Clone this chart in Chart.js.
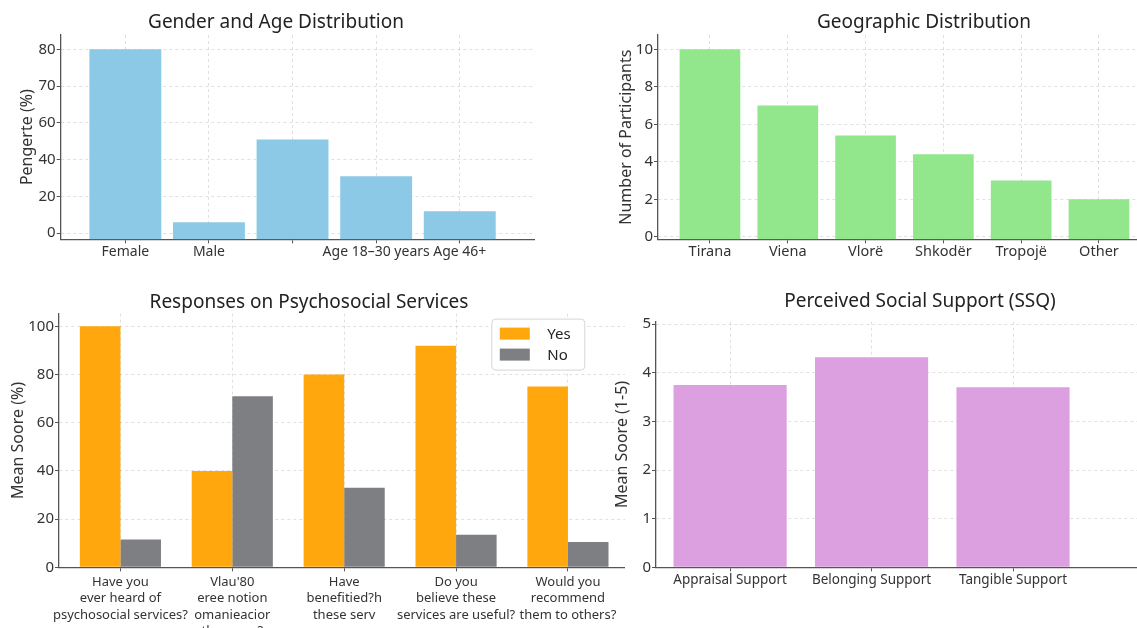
<!DOCTYPE html>
<html>
<head>
<meta charset="utf-8">
<title>Survey charts</title>
<script src="https://cdn.jsdelivr.net/npm/chart.js@4.4.1/dist/chart.umd.min.js"></script>
<style>
  html, body { margin: 0; padding: 0; background: #fff; overflow: hidden; }
  #page { position: relative; width: 1137px; height: 628px; overflow: hidden; background: #fff; }
  canvas { position: absolute; }
</style>
</head>
<body>
<div id="page">
  <canvas id="genderChart" width="535" height="275" style="left:0px;top:0px"></canvas>
  <canvas id="geoChart" width="616" height="275" style="left:616px;top:0px"></canvas>
  <canvas id="servicesChart" width="632" height="348" style="left:-7px;top:280px"></canvas>
  <canvas id="supportChart" width="616" height="348" style="left:612px;top:280px"></canvas>
</div>
<script>
// gender / age
var genderLabels = ['Female', 'Male', '', 'Age 18–30 years', 'Age 46+'];
var genderValues = [80, 6, 51, 31, 12];
var genderTicks = [0, 20, 40, 60, 70, 80];

// geography
var cityLabels = ['Tirana', 'Viena', 'Vlorë', 'Shkodër', 'Tropojë', 'Other'];
var cityValues = [10, 7, 5.4, 4.4, 3, 2];

// psychosocial services
var questionLabels = [
  ['Have you', 'ever heard of', 'psychosocial services?'],
  ['Vlau\'80', 'eree notion', 'omanieacior', 'these ser?'],
  ['Have', 'benefitied?h', 'these serv'],
  ['Do you', 'believe these', 'services are useful?'],
  ['Would you', 'recommend', 'them to others?']
];
var yesValues = [100, 40, 80, 92, 75];
var noValues = [11.5, 71, 33, 13.5, 10.5];

// SSQ
var supportLabels = ['Appraisal Support', 'Belonging Support', 'Tangible Support'];
var supportValues = [3.75, 4.32, 3.7];

Chart.defaults.font.family = "'Noto Sans', sans-serif";
Chart.defaults.color = '#333';
Chart.defaults.animation = false;

var gridColor = 'rgba(0,0,0,0.12)';
var axisColor = '#555';

// y axis whose ticks are evenly spaced even when their values are not (0,20,40,60,70,80)
class TickIndexScale extends Chart.LinearScale {
  toUnit(v) {
    var t = genderTicks, i = 1;
    while (i < t.length - 1 && v > t[i]) i++;
    return i - 1 + (v - t[i - 1]) / (t[i] - t[i - 1]);
  }
  fromUnit(u) {
    var t = genderTicks;
    var i = Math.min(Math.max(Math.floor(u), 0), t.length - 2);
    return t[i] + (u - i) * (t[i + 1] - t[i]);
  }
  buildTicks() {
    return genderTicks.map(function (v) { return { value: v }; });
  }
  configure() {
    super.configure();
    this._startValue = this.toUnit(this.min);
    this._valueRange = this.toUnit(this.max) - this._startValue;
  }
  getPixelForValue(value) {
    if (value === null || value === undefined) return NaN;
    return this.getPixelForDecimal((this.toUnit(value) - this._startValue) / this._valueRange);
  }
  getValueForPixel(pixel) {
    return this.fromUnit(this._startValue + this.getDecimalForPixel(pixel) * this._valueRange);
  }
}
TickIndexScale.id = 'tickIndex';
TickIndexScale.defaults = Chart.LinearScale.defaults;
Chart.register(TickIndexScale);

// legend drawn inside the plot, top right, with a frame
var frameLegend = {
  id: 'frameLegend',
  afterDraw: function (chart) {
    var ctx = chart.ctx, area = chart.chartArea;
    var sets = chart.data.datasets;
    var w = 93, h = 51;
    var x = area.right - 40.7 - w, y = area.top + 5;
    ctx.save();
    ctx.fillStyle = 'rgba(255,255,255,0.92)';
    ctx.strokeStyle = '#d6d6d6';
    ctx.lineWidth = 1;
    ctx.beginPath();
    if (ctx.roundRect) ctx.roundRect(x + 0.5, y + 0.5, w, h, 4); else ctx.rect(x + 0.5, y + 0.5, w, h);
    ctx.fill();
    ctx.stroke();
    ctx.font = "15px 'Noto Sans', sans-serif";
    ctx.textBaseline = 'middle';
    for (var i = 0; i < sets.length; i++) {
      var cy = y + 15 + i * 21;
      ctx.fillStyle = sets[i].backgroundColor;
      ctx.fillRect(x + 8.5, cy - 6, 30, 12);
      ctx.fillStyle = '#222';
      ctx.fillText(sets[i].label, x + 56, cy + 1);
    }
    ctx.restore();
  }
};

function chartTitle(text, top, bottom) {
  return {
    display: true, text: text, color: '#222',
    font: { size: 19, weight: 'normal' },
    padding: { top: top, bottom: bottom }
  };
}

function xAxis(labels, min, max, fontSize, pad, height) {
  return {
    type: 'linear', min: min, max: max, offset: false,
    afterFit: function (s) { s.height = height; },
    grid: { offset: false, color: gridColor, tickColor: axisColor, tickLength: 4 },
    border: { color: axisColor, width: 1.3, dash: [3, 3] },
    ticks: {
      stepSize: 1, includeBounds: false, autoSkip: false,
      minRotation: 0, maxRotation: 0, padding: pad,
      font: { size: fontSize, lineHeight: 1.25 }, color: '#333',
      callback: function (v) { return labels[v]; }
    }
  };
}

function yAxis(type, title, min, max, step, width, titlePad) {
  return {
    type: type, min: min, max: max,
    afterFit: function (s) { s.width = width; },
    grid: { color: gridColor, tickColor: axisColor, tickLength: 4 },
    border: { color: axisColor, width: 1.3, dash: [3, 3] },
    ticks: { stepSize: step, includeBounds: false, padding: 1, font: { size: 15 }, color: '#333' },
    title: { display: true, text: title, color: '#333', font: { size: 16 }, padding: { top: titlePad, bottom: 0 } }
  };
}

function points(values) {
  return values.map(function (v, i) { return { x: i, y: v }; });
}

var noTips = { legend: { display: false }, tooltip: { enabled: false } };

new Chart(document.getElementById('genderChart'), {
  type: 'bar',
  data: {
    datasets: [{
      data: points(genderValues),
      backgroundColor: 'rgba(130,196,228,0.92)',
      base: -3.3, barPercentage: 0.86, categoryPercentage: 1
    }]
  },
  options: {
    responsive: false,
    layout: { padding: { left: 17 } },
    plugins: Object.assign({ title: chartTitle('Gender and Age Distribution', 11.2, 1) }, noTips),
    scales: {
      x: xAxis(genderLabels, -0.773, 4.9, 14, 0, 35.7),
      y: yAxis('tickIndex', 'Pengerte (%)', -3.3, 83.9, 20, 43.7, 0.4)
    }
  }
});

new Chart(document.getElementById('geoChart'), {
  type: 'bar',
  data: {
    datasets: [{
      data: points(cityValues),
      backgroundColor: 'rgba(137,228,130,0.92)',
      base: -0.13, barPercentage: 0.78, categoryPercentage: 1
    }]
  },
  options: {
    responsive: false,
    plugins: Object.assign({ title: chartTitle('Geographic Distribution', 11.2, 1) }, noTips),
    scales: {
      x: xAxis(cityLabels, -0.668, 6.71, 14.5, 0, 35.7),
      y: yAxis('linear', 'Number of Participants', -0.13, 10.76, 2, 42, 0.4)
    }
  }
});

new Chart(document.getElementById('servicesChart'), {
  type: 'bar',
  data: {
    datasets: [
      { label: 'Yes', data: points(yesValues), backgroundColor: 'rgba(255,162,0,0.95)', barPercentage: 1, categoryPercentage: 0.725 },
      { label: 'No', data: points(noValues), backgroundColor: 'rgba(118,120,124,0.95)', barPercentage: 1, categoryPercentage: 0.725 }
    ]
  },
  options: {
    responsive: false,
    plugins: Object.assign({ title: chartTitle('Responses on Psychosocial Services', 10.8, 0) }, noTips),
    scales: {
      x: xAxis(questionLabels, -0.549, 4.51, 13, 3, 60.7),
      y: yAxis('linear', 'Mean Soore (%)', 0, 105.3, 20, 66, 15.4)
    }
  },
  plugins: [frameLegend]
});

new Chart(document.getElementById('supportChart'), {
  type: 'bar',
  data: {
    datasets: [{
      data: points(supportValues),
      backgroundColor: 'rgba(217,152,222,0.92)',
      barPercentage: 0.8, categoryPercentage: 1
    }]
  },
  options: {
    responsive: false,
    plugins: Object.assign({ title: chartTitle('Perceived Social Support (SSQ)', 10, 8.9) }, noTips),
    scales: {
      x: xAxis(supportLabels, -0.524, 3.52, 13.5, 0, 60.7),
      y: yAxis('linear', 'Mean Soore (1-5)', 0, 5.05, 1, 44, 0.4)
    }
  }
});
</script>
</body>
</html>
